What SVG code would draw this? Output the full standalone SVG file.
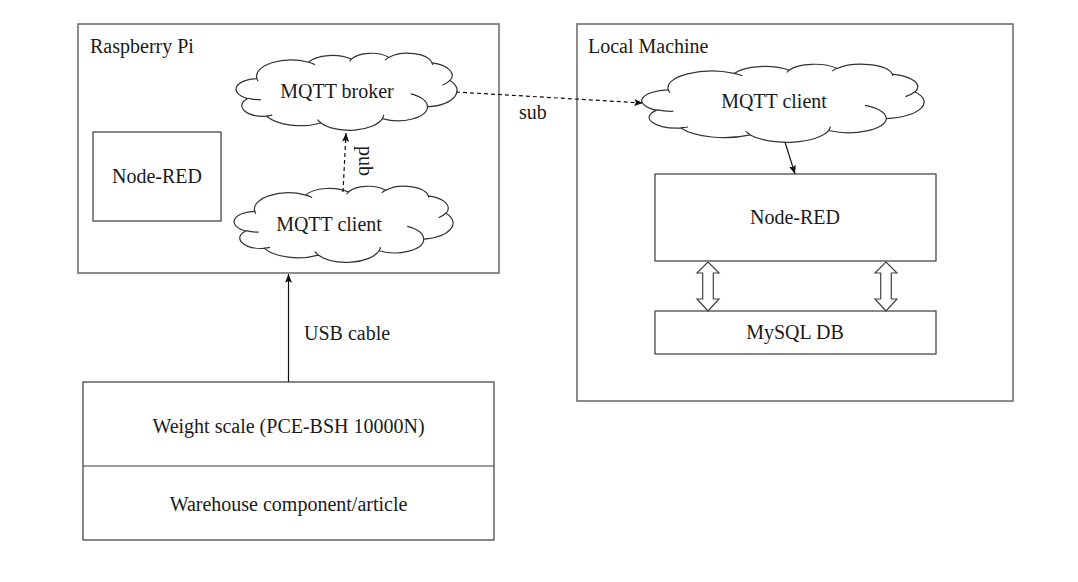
<svg xmlns="http://www.w3.org/2000/svg" xmlns:xlink="http://www.w3.org/1999/xlink" width="1078" height="582" viewBox="0 0 1078 582">
<style>
text{font-family:"Liberation Serif","Times New Roman",serif;font-size:20px;fill:#1a1a1a}
.c{text-anchor:middle}
.outer{fill:#fff;stroke:#707070;stroke-width:1.6}
.box{fill:#fff;stroke:#3a3a3a;stroke-width:1.2}
.cloud{fill:#fff;stroke:#333;stroke-width:1.2;vector-effect:non-scaling-stroke}
.curl{fill:none;stroke:#333;stroke-width:1.2;vector-effect:non-scaling-stroke}
.edge{fill:none;stroke:#111;stroke-width:1.2}
.dash{stroke-dasharray:4 3}
.dbl{fill:#fff;stroke:#444;stroke-width:1.2}
</style>
<defs>
<marker id="ah" viewBox="0 0 10 8" refX="10" refY="4" markerWidth="9" markerHeight="7" markerUnits="userSpaceOnUse" orient="auto">
<path d="M0,0 L10,4 L0,8 L2,4 z" fill="#111"/>
</marker>
<g id="cloudshape">
<path class="cloud" d="M39,143.7 A67.53,91.9 0 0 1 140.06,52.03 A53.33,72.67 0 0 1 224.57,34.33 A43.65,59.45 0 0 1 298.34,24.8 A48.57,65.95 0 0 1 383.18,55.77 A53.33,72.73 0 0 1 418.18,154.61 A67.75,92.2 0 0 1 374.06,302.04 A57.85,78.67 0 0 1 285.58,368.15 A67.52,92.15 0 0 1 164.82,392.67 A77.2,105.43 0 0 1 58.09,354.75 A43.6,59.18 0 0 1 21.17,255.54 A43.45,59.45 0 0 1 39,143.7 Z"/>
<path class="curl" d="M46.93,261.77 A43.45,59.45 0 0 1 21.6,253.8 M69.28,348.99 A43.6,59.18 0 0 1 58.2,352.8 M164.78,390.9 A67.52,92.15 0 0 1 158.1,373.48 M288.27,347.51 A67.52,92.15 0 0 1 285.6,366.61 M341.29,229.54 A57.85,78.67 0 0 1 373.8,300.89 M417.98,153.54 A53.33,72.73 0 0 1 403.5,180.3 M383.24,54.26 A48.57,65.95 0 0 1 384,66.9 M290.78,39.52 A48.57,65.95 0 0 1 298.2,23.39 M221.41,47.2 A43.65,59.45 0 0 1 225,33.31 M140,51.92 A67.53,91.9 0 0 1 152.99,65.4 M41.27,157.89 A67.53,91.9 0 0 1 39,143.7"/>
</g>
</defs>
<rect width="1078" height="582" fill="#fff"/>

<g id="raspberry-pi">
<rect class="outer" x="78" y="24" width="421" height="249"/>
<text x="90" y="53">Raspberry Pi</text>
</g>

<g id="local-machine">
<rect class="outer" x="577" y="24" width="436" height="377"/>
<text x="588" y="53">Local Machine</text>
</g>

<g id="rpi-node-red">
<rect class="box" x="93" y="132" width="128" height="89"/>
<text class="c" x="157" y="183">Node-RED</text>
</g>

<g id="mqtt-broker">
<use xlink:href="#cloudshape" transform="translate(237,53) scale(0.50926,0.17824)"/>
<text class="c" x="337" y="98">MQTT broker</text>
</g>

<g id="rpi-mqtt-client">
<use xlink:href="#cloudshape" transform="translate(235,186) scale(0.50463,0.17593)"/>
<text class="c" x="329" y="231">MQTT client</text>
</g>

<g id="lm-mqtt-client">
<use xlink:href="#cloudshape" transform="translate(643,64) scale(0.65046,0.18056)"/>
<text class="c" x="774" y="108">MQTT client</text>
</g>

<g id="lm-node-red">
<rect class="box" x="655" y="174" width="281" height="87"/>
<text class="c" x="795" y="224">Node-RED</text>
</g>

<g id="mysql-db">
<rect class="box" x="655" y="311" width="281" height="43"/>
<text class="c" x="795" y="339">MySQL DB</text>
</g>

<g id="weight-scale">
<rect class="box" x="83" y="382" width="411" height="158"/>
<line class="box" x1="83" y1="466" x2="494" y2="466"/>
<text class="c" x="288.5" y="433">Weight scale (PCE-BSH 10000N)</text>
<text class="c" x="288.5" y="511">Warehouse component/article</text>
</g>

<g id="connectors">
<line class="edge" x1="288.5" y1="382" x2="288.5" y2="274" marker-end="url(#ah)"/>
<text x="304" y="340">USB cable</text>
<line class="edge dash" x1="343" y1="192" x2="346" y2="133" marker-end="url(#ah)"/>
<text class="c" transform="translate(359,161) rotate(90)">pub</text>
<line class="edge dash" x1="456" y1="92" x2="643" y2="103" marker-end="url(#ah)"/>
<text x="519" y="119">sub</text>
<line class="edge" x1="785" y1="142" x2="795" y2="174" marker-end="url(#ah)"/>
<path class="dbl" d="M708,262 L719,273 L713.3,273 L713.3,299 L719,299 L708,311 L697,299 L702.7,299 L702.7,273 L697,273 Z"/>
<path class="dbl" d="M886,262 L897,273 L891.3,273 L891.3,299 L897,299 L886,311 L875,299 L880.7,299 L880.7,273 L875,273 Z"/>
</g>
</svg>
